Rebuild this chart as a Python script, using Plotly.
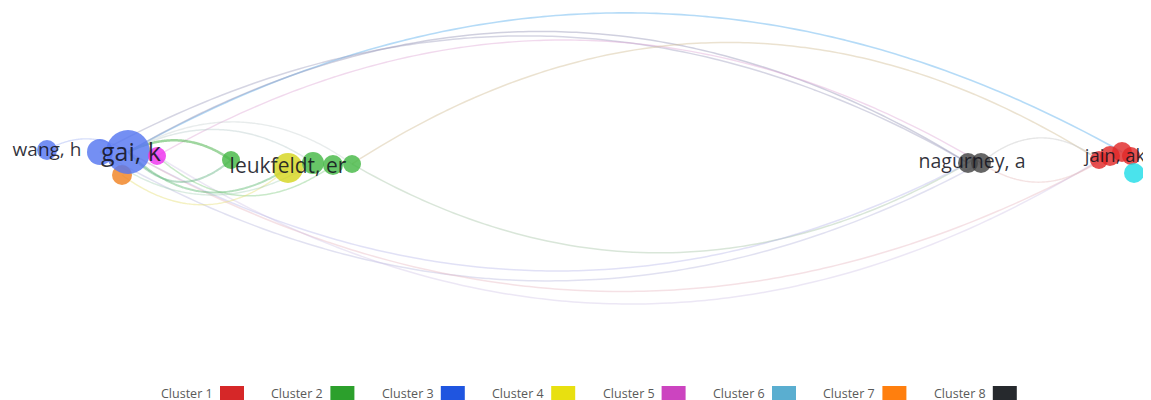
import numpy as np
import plotly.graph_objects as go

# ---------------- data ----------------
node_names = ["orange", "wang, h", "blue2", "gai, k", "magenta",
              "green a", "yellow", "green b", "green c", "green d",
              "gray a", "gray b", "red a", "red b", "red c", "red d", "cyan"]
node_x = [122, 47, 100, 128, 157, 231, 288, 313, 333, 352, 968, 981, 1099, 1110, 1122, 1131, 1134]
node_y = [175, 150, 152, 152, 156, 160, 168, 163, 165, 164, 163, 163, 160, 156, 152, 156, 173]
node_w = [10, 10, 13, 22, 9, 9, 15, 11, 10, 9, 10, 10, 9, 10, 10, 9, 10]
node_cluster = [7, 3, 3, 3, 5, 2, 4, 2, 2, 2, 8, 8, 1, 1, 1, 1, 6]

label_text = ["wang, h", "gai, k", "leukfeldt, er", "nagurney, a", "jain, ak"]
label_x = [47, 131, 288, 972, 1115]
label_y = [151, 155, 168, 163, 157]
label_size = [19, 25, 21, 19.5, 18.5]

# edges: source index, target index, bend (relative control offset, + = upward)
edge_src = [3, 3, 2, 4, 9,   9, 3, 2, 3, 4,   3, 3, 3, 3, 4, 0, 1, 2, 3,   11, 11, 10]
edge_tgt = [14, 10, 10, 11, 12,  10, 10, 11, 13, 12,  5, 6, 7, 9, 8, 6, 3, 7, 5,  12, 12, 11]
edge_bend = [0.28, 0.30, 0.28, 0.29, 0.32,  -0.29, -0.27, -0.28, -0.28, -0.31,
             0.30, -0.40, 0.30, 0.32, -0.40, -0.40, 0.30, -0.35, -0.50,
             0.40, -0.35, 0.5]
edge_color = ["rgba(120,190,240,0.55)", "rgba(150,150,185,0.45)", "rgba(150,150,185,0.40)",
              "rgba(220,160,210,0.40)", "rgba(210,190,150,0.45)",
              "rgba(170,200,170,0.45)", "rgba(170,170,230,0.35)", "rgba(180,180,220,0.40)",
              "rgba(230,180,190,0.40)", "rgba(200,185,225,0.35)",
              "rgba(80,180,80,0.55)", "rgba(90,185,110,0.45)", "rgba(180,200,200,0.40)",
              "rgba(190,200,200,0.35)", "rgba(120,200,120,0.40)", "rgba(230,225,120,0.45)",
              "rgba(140,160,240,0.35)", "rgba(150,200,170,0.35)", "rgba(100,180,130,0.45)",
              "rgba(200,200,200,0.45)", "rgba(230,190,190,0.45)", "rgba(120,120,120,0.4)"]
edge_width = [1.6, 1.5, 1.5, 1.4, 1.5,  1.5, 1.5, 1.5, 1.5, 1.5,
              2.5, 2.0, 1.5, 1.4, 1.5, 1.4, 1.4, 1.4, 2.0,  1.4, 1.4, 2.0]

cluster_names = ["Cluster 1", "Cluster 2", "Cluster 3", "Cluster 4",
                 "Cluster 5", "Cluster 6", "Cluster 7", "Cluster 8"]
cluster_colors = ["#d62728", "#2ca02c", "#1f55e0", "#e8e010",
                  "#cc44c0", "#5aaed0", "#ff7f0e", "#26292d"]
node_colors = {1: "#e02a2a", 2: "#45b845", 3: "#5576f0", 4: "#d6d620",
               5: "#ee30ee", 6: "#22dde8", 7: "#f08222", 8: "#444444"}

# page body has an 8px margin: shift axis ranges so data units = screen pixels
OFF = 8

# ---------------- figure ----------------
fig = go.Figure()

t = np.linspace(0, 1, 80)
for s, d, b, c, w in zip(edge_src, edge_tgt, edge_bend, edge_color, edge_width):
    x0, y0, x2, y2 = node_x[s], node_y[s], node_x[d], node_y[d]
    dx, dy = x2 - x0, y2 - y0
    L = np.hypot(dx, dy)
    nx, ny = dy / L, -dx / L
    if dx < 0:
        nx, ny = -nx, -ny
    cx = (x0 + x2) / 2 + nx * b * L
    cy = (y0 + y2) / 2 + ny * b * L
    bx = (1 - t) ** 2 * x0 + 2 * (1 - t) * t * cx + t ** 2 * x2
    by = (1 - t) ** 2 * y0 + 2 * (1 - t) * t * cy + t ** 2 * y2
    fig.add_trace(go.Scatter(x=bx, y=by, mode="lines",
                             line=dict(color=c, width=w, shape="spline"),
                             hoverinfo="skip", showlegend=False))

fig.add_trace(go.Scatter(
    x=node_x, y=node_y, mode="markers",
    marker=dict(size=[2 * r for r in node_w],
                color=[node_colors[k] for k in node_cluster],
                opacity=0.82, line=dict(width=0)),
    hovertext=node_names, hoverinfo="text", showlegend=False, cliponaxis=False))

fig.add_trace(go.Scatter(
    x=label_x, y=label_y, mode="text", text=label_text,
    textfont=dict(family="Open Sans", size=label_size, color="rgba(20,20,30,0.88)"),
    hoverinfo="skip", showlegend=False, cliponaxis=False))

# legend row (text then colour box)
leg_x0 = 159
leg_step = 110.4
for i, (name, col) in enumerate(zip(cluster_names, cluster_colors)):
    xt = leg_x0 + i * leg_step
    fig.add_annotation(x=xt, y=393, xref="x", yref="y", text=name, showarrow=False,
                       xanchor="left", yanchor="middle",
                       font=dict(family="Open Sans", size=12.5, color="#5a5a5a"))
    fig.add_shape(type="rect", xref="x", yref="y", x0=xt + 61, x1=xt + 85,
                  y0=386, y1=400, fillcolor=col, line=dict(width=0))

fig.update_layout(
    width=1151, height=400, margin=dict(l=0, r=0, t=0, b=0),
    paper_bgcolor="white", plot_bgcolor="white",
    xaxis=dict(range=[OFF, 1151 + OFF], visible=False, fixedrange=True),
    yaxis=dict(range=[400 + OFF, OFF], visible=False, fixedrange=True),
)

fig.write_html("out.html")
